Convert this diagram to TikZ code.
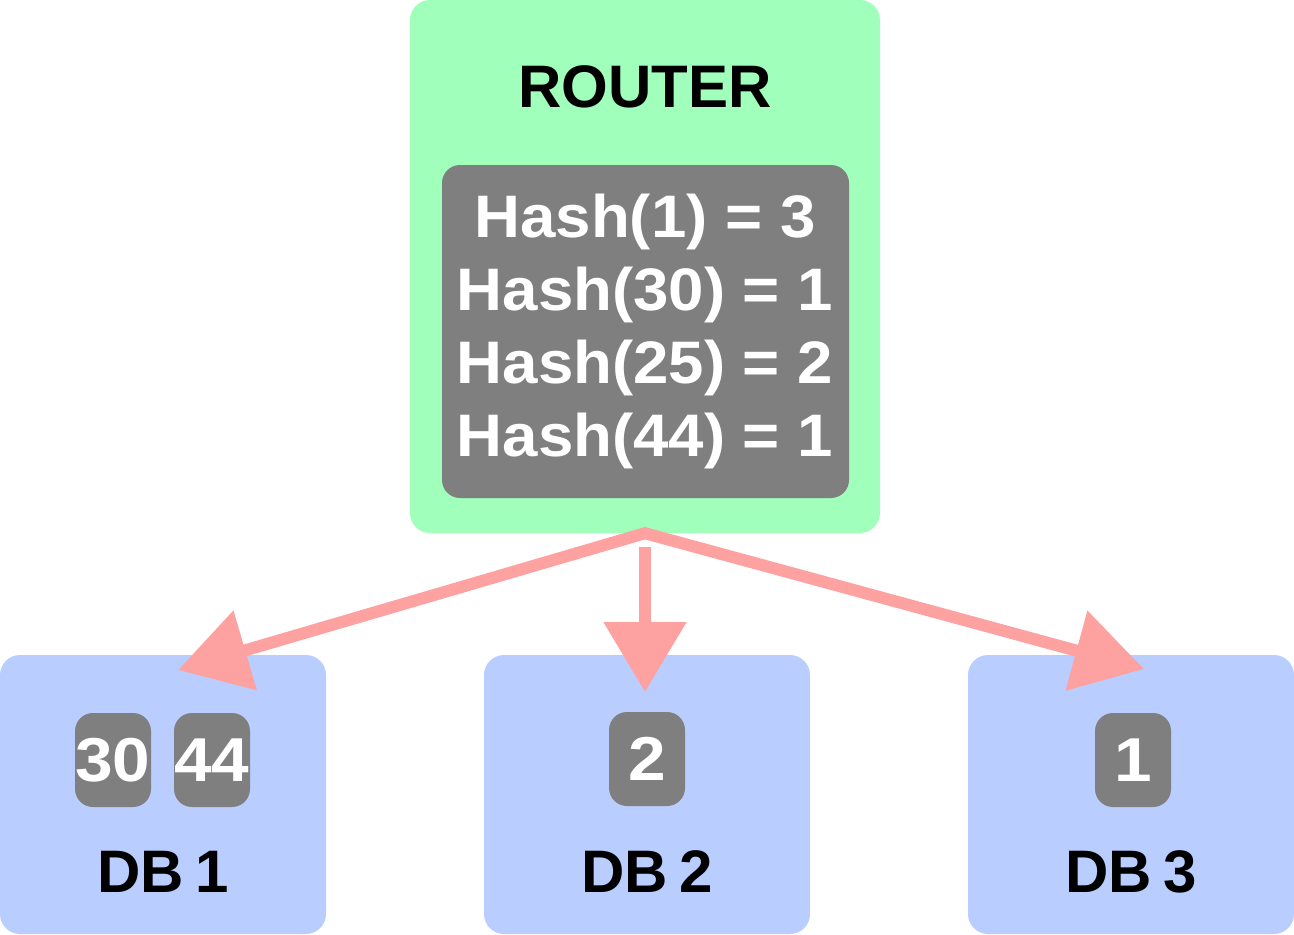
\documentclass[tikz,border=0pt]{standalone}
\usepackage{fontspec}
\setmainfont{Liberation Sans}
\newfontfamily\titlefont[WordSpace=0.7]{Liberation Sans}
\newfontfamily\tablefont[FakeStretch=1.06]{Liberation Sans}
\newfontfamily\keyfont[FakeStretch=1.09]{Liberation Sans}
\usetikzlibrary{arrows.meta}
\definecolor{routergreen}{RGB}{160,255,186}
\definecolor{dbblue}{RGB}{185,205,255}
\definecolor{keygray}{RGB}{127,127,127}
\definecolor{linkred}{RGB}{253,161,161}
\tikzset{
  panel/.style = {rounded corners = 20pt, inner sep = 0pt},
  router/.style = {panel, fill = routergreen, minimum width = 470pt, minimum height = 533pt},
  db/.style = {panel, fill = dbblue, minimum width = 326pt, minimum height = 279pt},
  hashbox/.style = {rounded corners = 18pt, fill = keygray, inner sep = 0pt,
    minimum width = 407pt, minimum height = 333pt},
  key/.style = {rounded corners = 18pt, fill = keygray, inner sep = 0pt,
    minimum width = 76pt, minimum height = 94pt, text = white,
    font = \keyfont\bfseries\fontsize{62}{62}\selectfont},
  title/.style = {anchor = base, font = \titlefont\bfseries\fontsize{60}{60}\selectfont},
  hashline/.style = {anchor = base, text = white, inner sep = 0pt,
    font = \tablefont\bfseries\fontsize{60}{60}\selectfont},
  link/.style = {draw = linkred, line width = 12pt, line join = miter},
  >={Triangle[length = 70pt, width = 80pt]}
}
\begin{document}
\begin{tikzpicture}[x = 1pt, y = -1pt]
\useasboundingbox (0, 0) rectangle (1294, 935);
% router with its hash table
\node[router] (router) at (645, 266.5) {};
\node[title] (routername) at (645, 107) {ROUTER};
\node[hashbox] (hashes) at (645.5, 331.5) {};
\node[hashline] (hash1) at (645, 237) {Hash(1) = 3};
\node[hashline] (hash2) at (645, 310) {Hash(30) = 1};
\node[hashline] (hash3) at (645, 383) {Hash(25) = 2};
\node[hashline] (hash4) at (645, 456) {Hash(44) = 1};
% databases
\node[db] (db1) at (163, 794.5) {};
\node[db] (db2) at (647, 794.5) {};
\node[db] (db3) at (1131, 794.5) {};
\node[key] (key30) at (113, 760) {30};
\node[key] (key44) at (212, 760) {44};
\node[key] (key25) at (647, 759) {2};
\node[key] (key1) at (1133, 760) {1};
\node[title] (db1name) at (163, 892) {DB 1};
\node[title] (db2name) at (647, 892) {DB 2};
\node[title] (db3name) at (1131, 892) {DB 3};
% links
\coordinate (in1) at (178, 670);
\coordinate (in2) at (645, 692);
\coordinate (in3) at (1144, 669);
\draw[link, <->] (in1) -- (router.south) -- (in3);
\draw[link, ->] ([yshift = -14pt]router.south) -- (in2);
\end{tikzpicture}
\end{document}
